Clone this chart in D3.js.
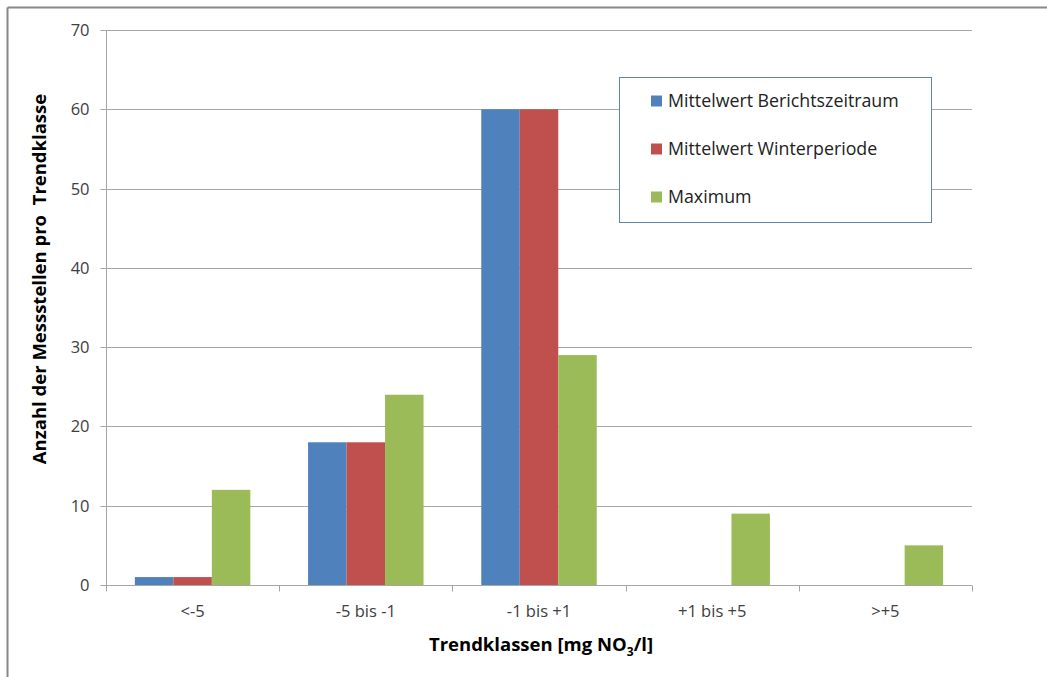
<!DOCTYPE html>
<html>
<head>
<meta charset="utf-8">
<script src="https://cdn.jsdelivr.net/npm/d3@7"></script>
<style>
  html, body { margin: 0; padding: 0; background: #fff; }
  svg { display: block; }
  text { font-family: "Open Sans", Lato, "Liberation Sans", sans-serif; }
</style>
</head>
<body>
<svg id="chart" width="1047" height="677"></svg>
<script>
// Trend classes and number of monitoring sites per class
const categories = ["<-5", "-5 bis -1", "-1 bis +1", "+1 bis +5", ">+5"];
const seriesNames = ["Mittelwert Berichtszeitraum", "Mittelwert Winterperiode", "Maximum"];
const berichtszeitraum = [1, 18, 60, 0, 0];
const winterperiode = [1, 18, 60, 0, 0];
const maximum = [12, 24, 29, 9, 5];
const yTicks = [0, 10, 20, 30, 40, 50, 60, 70];
const colors = ["#4F81BD", "#C0504D", "#9BBB59"];

const seriesValues = [berichtszeitraum, winterperiode, maximum];

const svg = d3.select("#chart");
const W = 1047, H = 677;
const plot = { left: 106, right: 972, top: 30, bottom: 585 };

// Outer chart frame (top and left edges visible)
svg.append("line").attr("x1", 7.5).attr("x2", W).attr("y1", 7.5).attr("y2", 7.5)
  .attr("stroke", "#888").attr("stroke-width", 2);
svg.append("line").attr("x1", 7.5).attr("x2", 7.5).attr("y1", 7.5).attr("y2", H)
  .attr("stroke", "#888").attr("stroke-width", 2);

const x = d3.scaleBand().domain(categories).range([plot.left, plot.right]).paddingInner(0).paddingOuter(0);
const x1 = d3.scaleBand().domain(seriesNames).range([0, x.bandwidth()]).paddingInner(0).paddingOuter(0.75);
const y = d3.scaleLinear().domain([0, 70]).range([plot.bottom, plot.top]);

// Horizontal gridlines
svg.append("g").selectAll("line").data(yTicks.filter(d => d > 0)).join("line")
  .attr("x1", plot.left).attr("x2", plot.right)
  .attr("y1", d => Math.round(y(d)) + 0.5).attr("y2", d => Math.round(y(d)) + 0.5)
  .attr("stroke", "#a6a6a6").attr("stroke-width", 1);

// Bars
const groups = svg.append("g").selectAll("g").data(categories).join("g")
  .attr("transform", d => `translate(${x(d)},0)`);
groups.selectAll("rect")
  .data((c, i) => seriesNames.map((s, k) => ({ s, k, v: seriesValues[k][i] })))
  .join("rect")
  .attr("x", d => x1(d.s))
  .attr("width", x1.bandwidth())
  .attr("y", d => y(d.v))
  .attr("height", d => y(0) - y(d.v))
  .attr("fill", d => colors[d.k]);

// Y axis
const yAxis = d3.axisLeft(y).tickValues(yTicks).tickSize(6).tickPadding(11);
const gy = svg.append("g").attr("transform", `translate(${plot.left + 0.5},0)`).call(yAxis);
gy.select(".domain").attr("stroke", "#a6a6a6").attr("d", `M0,${plot.top}V${plot.bottom}`);
gy.selectAll(".tick line").attr("stroke", "#a6a6a6");
gy.selectAll(".tick").attr("transform", d => `translate(0,${Math.round(y(d)) + 0.5})`);
gy.selectAll("text").attr("fill", "#404040").style("font-size", "16.5px")
  .style("font-family", "'Open Sans', Lato, sans-serif");

// X axis with category boundary ticks
const gx = svg.append("g").attr("transform", `translate(0,${plot.bottom + 0.5})`);
gx.append("line").attr("x1", plot.left).attr("x2", plot.right)
  .attr("stroke", "#a6a6a6");
const bounds = categories.map(c => x(c)).concat([x.range()[1]]);
gx.selectAll("line.b").data(bounds).join("line").attr("class", "b")
  .attr("x1", d => Math.round(d) + 0.5).attr("x2", d => Math.round(d) + 0.5)
  .attr("y1", 0).attr("y2", 6).attr("stroke", "#a6a6a6");
gx.selectAll("text").data(categories).join("text")
  .attr("x", d => x(d) + x.bandwidth() / 2)
  .attr("y", 31)
  .attr("text-anchor", "middle")
  .attr("fill", "#404040")
  .style("font-size", "16.5px")
  .text(d => d);

// Axis titles
const xt = svg.append("text")
  .attr("x", 541).attr("y", 651)
  .attr("text-anchor", "middle")
  .attr("fill", "#000")
  .style("font-size", "18.5px").style("font-weight", "bold");
xt.append("tspan").text("Trendklassen [mg NO");
xt.append("tspan").attr("dy", 5).style("font-size", "12px").text("3");
xt.append("tspan").attr("dy", -5).text("/l]");

svg.append("text")
  .attr("transform", `translate(46,${279}) rotate(-90)`)
  .attr("text-anchor", "middle")
  .attr("fill", "#000")
  .style("font-size", "18.5px").style("font-weight", "bold")
  .style("white-space", "pre")
  .text("Anzahl der Messstellen pro  Trendklasse");

// Legend
const lg = svg.append("g");
lg.append("rect").attr("x", 619.5).attr("y", 77.5).attr("width", 312).attr("height", 145)
  .attr("fill", "#fff").attr("stroke", "#5b88a8").attr("stroke-width", 1);
const items = lg.selectAll("g").data(seriesNames).join("g")
  .attr("transform", (d, i) => `translate(651,${101 + i * 48})`);
items.append("rect").attr("x", 0).attr("y", -5.5).attr("width", 11).attr("height", 11)
  .attr("fill", (d, i) => colors[i]);
items.append("text").attr("x", 17).attr("y", 0).attr("dy", "0.35em")
  .attr("fill", "#222").style("font-size", "17.8px").text(d => d);
</script>
</body>
</html>
